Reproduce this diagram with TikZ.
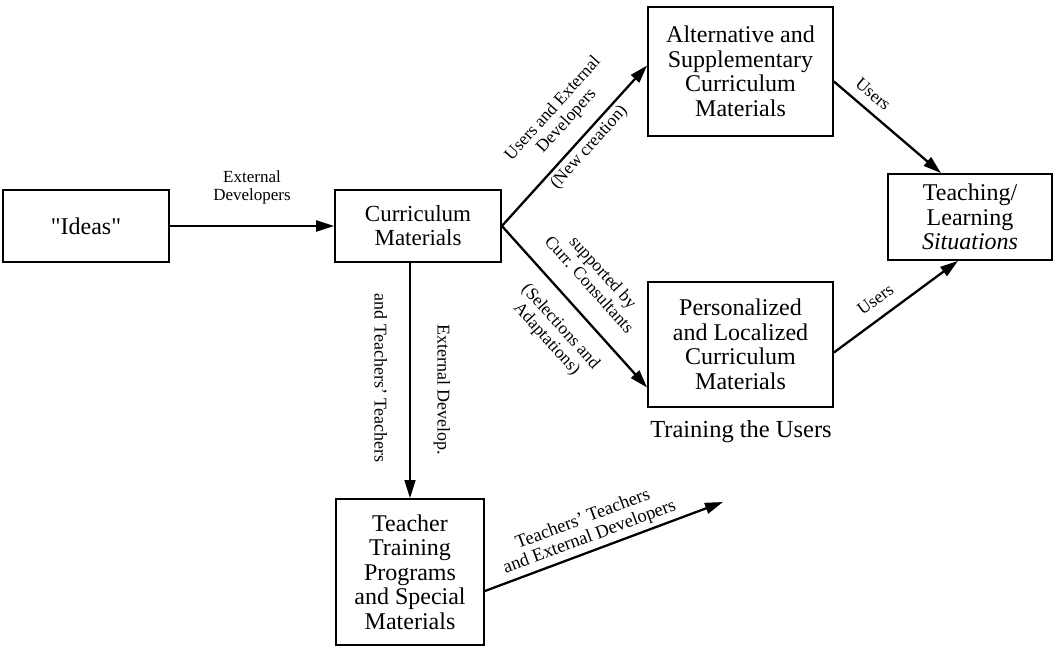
\documentclass[tikz,border=0pt]{standalone}
\usepackage{fontspec}
\setmainfont{Liberation Serif}
\usetikzlibrary{arrows.meta}
\begin{document}
\begin{tikzpicture}[x=1pt,y=-1pt,
  box/.style={draw, line width=1.8pt, align=center, inner sep=0pt,
    font=\fontsize{24}{24.5}\selectfont},
  flow/.style={line width=2.3pt, -{Triangle[length=18pt,width=11pt]}},
  thin flow/.style={line width=1.6pt, -{Triangle[length=18pt,width=11pt]}},
  lbl/.style={align=center, inner sep=1pt, font=\fontsize{17.5}{18.5}\selectfont},
  vlbl/.style={align=center, inner sep=1pt, font=\fontsize{18}{19}\selectfont},
]
\useasboundingbox (0,0) rectangle (1056,647);

% boxes
\node[box, minimum width=166pt, minimum height=72pt] (ideas) at (86,226)
  {\textquotedbl Ideas\textquotedbl};
\node[box, minimum width=166pt, minimum height=72pt, font=\fontsize{23}{24}\selectfont]
  (cur) at (418,226) {Curriculum\\Materials};
\node[box, minimum width=185pt, minimum height=129pt] (alt) at (740.5,71.5)
  {Alternative and\\Supplementary\\Curriculum\\Materials};
\node[box, minimum width=164pt, minimum height=86pt] (tl) at (970,217)
  {Teaching/\\Learning\\\textit{Situations}};
\node[box, minimum width=185pt, minimum height=125pt] (pers) at (740.5,344.5)
  {Personalized\\and Localized\\Curriculum\\Materials};
\node[box, minimum width=148pt, minimum height=146pt] (tt) at (410,572)
  {Teacher\\Training\\Programs\\and Special\\Materials};

\node[font=\fontsize{24.5}{25}\selectfont] (train) at (741,432) {Training the Users};

\coordinate (free) at (723,502);

% connectors
\draw[flow] (ideas.east) -- node[lbl, above=20pt, font=\fontsize{17}{18}\selectfont]
  {External\\Developers} (cur.west);

\draw[flow] (cur.east) -- ([yshift=6pt]alt.west)
  node[lbl, pos=0.56, sloped, above=12pt] {Users and External\\Developers}
  node[lbl, pos=0.54, sloped, below=2pt] {(New creation)};

\draw[flow] (cur.east) -- ([yshift=-43pt]pers.west)
  node[lbl, pos=0.47, sloped, above=18pt] {supported by\\Curr. Consultants}
  node[lbl, pos=0.525, sloped, below=14pt] {(Selections and\\Adaptations)};

\draw[thin flow] (cur.south -| tt.north) -- (tt.north)
  node[vlbl, pos=0.54, sloped, above=22pt] {External Develop.}
  node[vlbl, pos=0.49, sloped, below=21pt] {and Teachers' Teachers};

\draw[flow] ([yshift=-10pt]alt.east) -- ([xshift=-29pt]tl.north)
  node[lbl, pos=0.27, sloped, above=8pt] {Users};

\draw[flow] ([yshift=-8pt]pers.east) -- ([xshift=-12pt]tl.south)
  node[lbl, pos=0.42, sloped, above=10pt] {Users};

\draw[flow] ([yshift=-19pt]tt.east) -- (free)
  node[lbl, pos=0.46, sloped, above=3pt, font=\fontsize{18.5}{19}\selectfont]
  {Teachers' Teachers\\and External Developers};
\end{tikzpicture}
\end{document}
